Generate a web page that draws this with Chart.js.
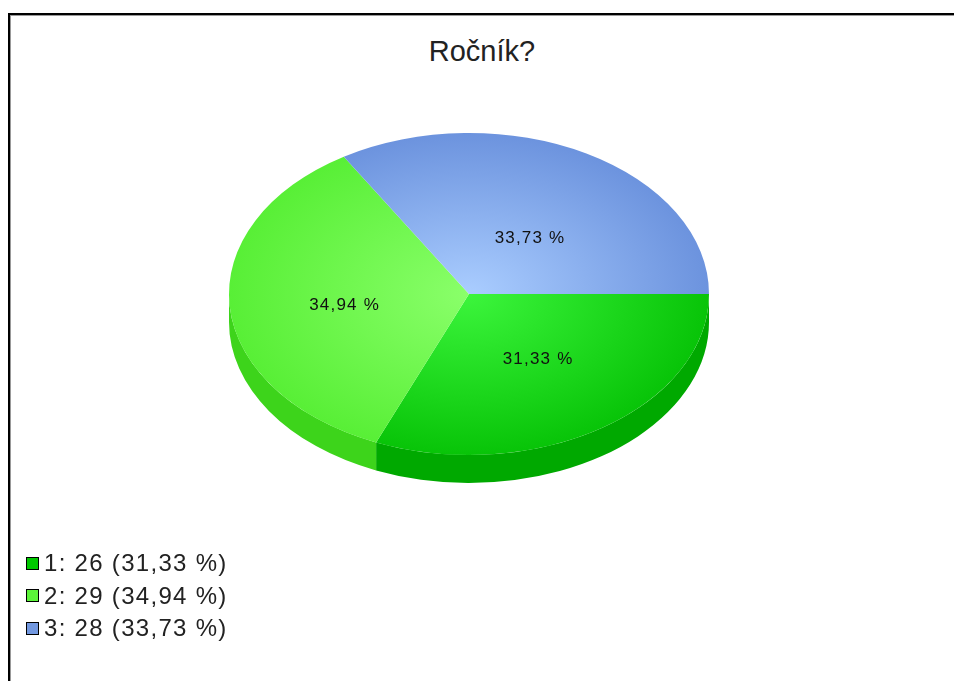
<!DOCTYPE html>
<html>
<head>
<meta charset="utf-8">
<script src="https://cdn.jsdelivr.net/npm/chart.js@4.4.1/dist/chart.umd.min.js"></script>
<style>
  body { margin: 0; background: #fff; font-family: "Liberation Sans", Arial, sans-serif; }
  #wrap { position: relative; width: 954px; height: 681px; overflow: hidden; }
  #frame { position: absolute; left: 8px; top: 13px; right: -10px; bottom: -10px;
           border-left: 2px solid #000; border-top: 2px solid #000; box-shadow: inset 1px 1px 0 #999; }
  #title { position: absolute; left: 10px; width: 944px; top: 35px; text-align: center;
           font-size: 29px; color: #222; }
  #legend { position: absolute; left: 26px; top: 547px; font-size: 24px; color: #222; letter-spacing: 1.3px; }
  .row { height: 32.5px; display: flex; align-items: center; }
  .box { width: 11px; height: 11px; border: 1px solid #000; margin-right: 5px; }
  canvas { position: absolute; left: 0; top: 0; }
</style>
</head>
<body>
<div id="wrap">
  <div id="frame"></div>
  <div id="title">Ročník?</div>
  <canvas id="chart-pie" width="954" height="681"></canvas>
  <div id="legend"></div>
</div>
<script>
const categories = ["1", "2", "3"];
const counts = [26, 29, 28];
const topInner = ["#3cf53c", "#8aff6a", "#aacdff"];
const topOuter = ["#08c408", "#58ef36", "#6c93de"];
const sideColors = ["#00a900", "#3dd41b", "#5a7fc8"];
const legendColors = ["#00c800", "#5cf43a", "#7298e0"];

const total = counts.reduce((a, b) => a + b, 0);
const pctText = counts.map(v => (v / total * 100).toFixed(2).replace(".", ",") + " %");

const TILT = 161 / 240; // ellipse ratio
const DEPTH = 28;

// legend as html
const legend = document.getElementById("legend");
categories.forEach((c, i) => {
  const row = document.createElement("div");
  row.className = "row";
  row.innerHTML = '<span class="box" style="background:' + legendColors[i] + '"></span>' +
    c + ": " + counts[i] + " (" + pctText[i] + ")";
  legend.appendChild(row);
});

// squash the pie into an ellipse and give it a side wall
const pie3d = {
  id: "pie3d",
  beforeDatasetsDraw(chart) {
    const ctx = chart.ctx;
    const arcs = chart.getDatasetMeta(0).data;
    const cx = arcs[0].x, cy = arcs[0].y, r = arcs[0].outerRadius;
    arcs.forEach((arc, i) => {
      const a0 = Math.max(arc.startAngle, 0);
      const a1 = Math.min(arc.endAngle, Math.PI);
      if (a1 <= a0) return;
      ctx.beginPath();
      ctx.ellipse(cx, cy, r, r * TILT, 0, a0, a1);
      ctx.ellipse(cx, cy + DEPTH, r, r * TILT, 0, a1, a0, true);
      ctx.closePath();
      ctx.fillStyle = sideColors[i];
      ctx.fill();
    });
    ctx.save();
    ctx.translate(cx, cy);
    ctx.scale(1, TILT);
    ctx.translate(-cx, -cy);
  },
  afterDatasetsDraw(chart) {
    const ctx = chart.ctx;
    ctx.restore();
    const arcs = chart.getDatasetMeta(0).data;
    ctx.save();
    ctx.font = '17px "Liberation Sans", Arial, sans-serif';
    ctx.letterSpacing = "1.2px";
    ctx.fillStyle = "#111";
    ctx.textAlign = "center";
    ctx.textBaseline = "middle";
    arcs.forEach((arc, i) => {
      const mid = (arc.startAngle + arc.endAngle) / 2;
      const x = arc.x + Math.cos(mid) * arc.outerRadius * 0.52;
      const y = arc.y + 6 + Math.sin(mid) * arc.outerRadius * TILT * 0.44;
      ctx.fillText(pctText[i], x, y);
    });
    ctx.restore();
  }
};

function topFill(context) {
  const chart = context.chart;
  const area = chart.chartArea;
  if (!area) return topOuter[context.dataIndex];
  const cx = (area.left + area.right) / 2, cy = (area.top + area.bottom) / 2;
  const r = Math.min(area.right - area.left, area.bottom - area.top) / 2;
  const g = chart.ctx.createRadialGradient(cx, cy, 0, cx, cy, r);
  g.addColorStop(0, topInner[context.dataIndex]);
  g.addColorStop(1, topOuter[context.dataIndex]);
  return g;
}

new Chart(document.getElementById("chart-pie"), {
  type: "pie",
  data: {
    labels: categories,
    datasets: [{
      data: counts,
      backgroundColor: topFill,
      borderWidth: 0,
      clip: false
    }]
  },
  options: {
    responsive: false,
    animation: false,
    rotation: 90,
    layout: { padding: { left: 229, right: 245, top: 54, bottom: 147 } },
    plugins: {
      legend: { display: false },
      tooltip: { enabled: false }
    }
  },
  plugins: [pie3d]
});
</script>
</body>
</html>
